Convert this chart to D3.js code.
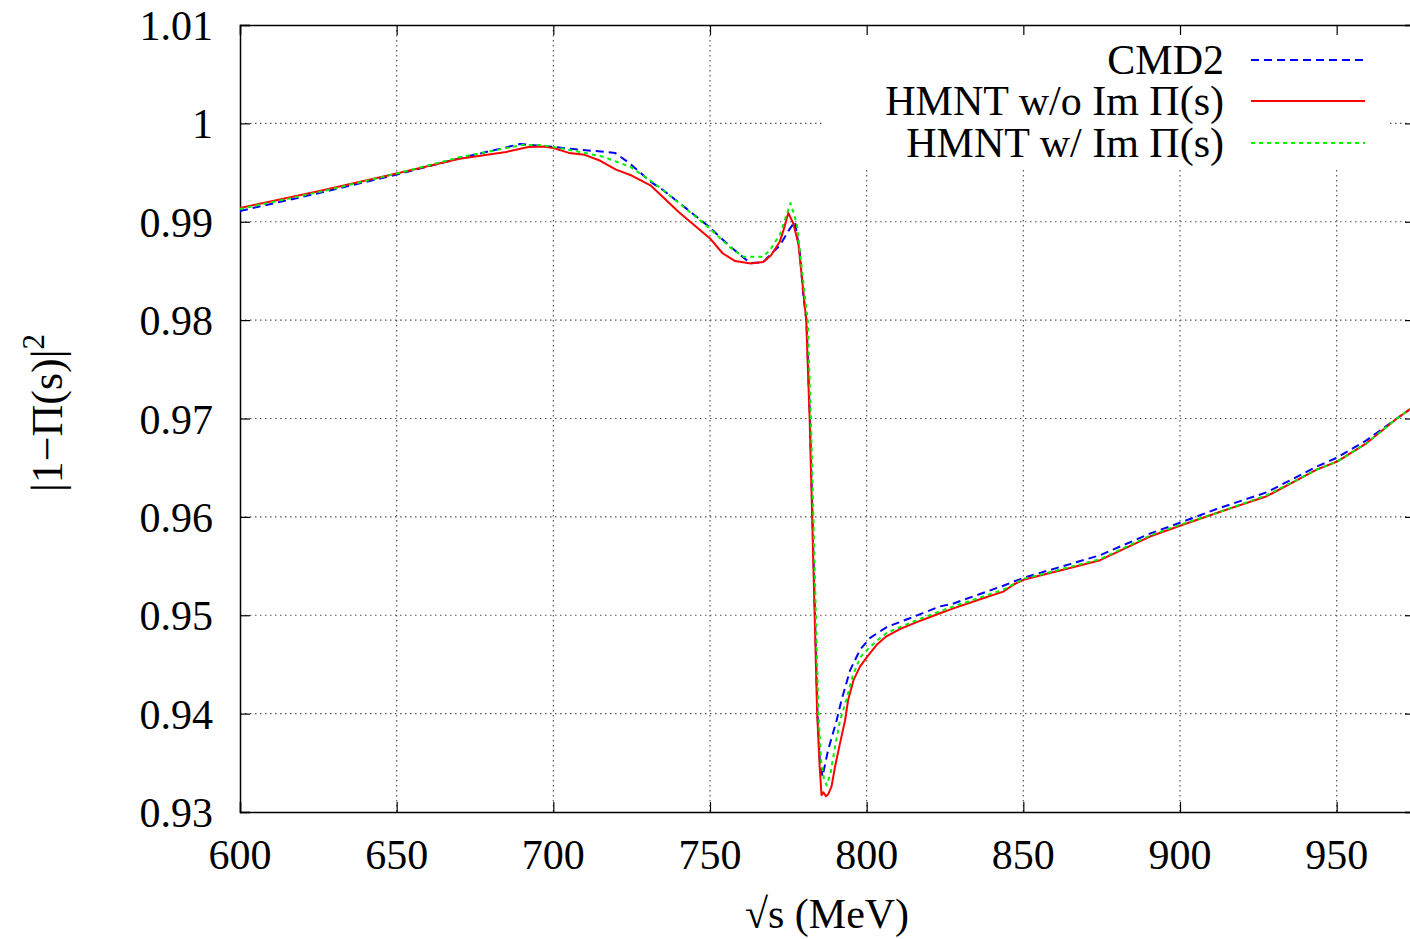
<!DOCTYPE html>
<html>
<head>
<meta charset="utf-8">
<script src="https://cdn.jsdelivr.net/npm/d3@7"></script>
<style>
  body { margin: 0; background: #fff; }
  svg { display: block; }
  text { font-family: "Liberation Serif", "Times New Roman", serif; fill: #000; }
</style>
</head>
<body>
<div id="chart"></div>
<script>
// CMD2 (dashed blue)
var energyCMD2 = [600, 625, 650, 670, 689.4, 700, 709.5, 719.7, 724.5, 730.9, 735.1, 748.9, 756.4, 762.8, 767, 769.1, 772.3, 775.5, 777.1, 778.7, 779.8, 780.8, 781.9, 782.7, 783.5, 784.3, 785, 785.9, 787.7, 790.4, 792, 794.7, 797.9, 801.1, 806.4, 813.8, 823.4, 827.7, 843.6, 850, 858.5, 864.9, 874.5, 890.4, 900, 911.7, 927.7, 943.6, 950, 959.6, 969.2, 975];
var cmd2 = [0.9911, 0.9929, 0.9948, 0.99645, 0.9979, 0.9976, 0.9973, 0.9970, 0.9959, 0.9941, 0.9932, 0.9897, 0.9875, 0.9858, 0.9859, 0.9866, 0.9876, 0.9893, 0.9900, 0.9868, 0.9824, 0.980, 0.970, 0.960, 0.950, 0.940, 0.9355, 0.9336, 0.9363, 0.9393, 0.9414, 0.9444, 0.9465, 0.9477, 0.9488, 0.9497, 0.9509, 0.9512, 0.9530, 0.9538, 0.9546, 0.9552, 0.9561, 0.9583, 0.9594, 0.9608, 0.9625, 0.9651, 0.9660, 0.9678, 0.9700, 0.9713];

// HMNT without Im Pi(s) (solid red)
var energyNoIm = [600, 625, 650, 670, 685, 692, 697, 700, 705, 710, 715, 720, 725, 731, 740, 750, 754, 758, 763, 767, 769.5, 772.3, 773.5, 775, 776.6, 778.2, 779.4, 780.7, 781.8, 782.6, 783.4, 784.2, 785, 785.6, 786.2, 787, 787.7, 788.8, 789.9, 791.5, 793.1, 794.1, 795.8, 797.9, 800.2, 803.2, 806, 810.6, 816, 823.4, 827.7, 835, 843.6, 846.8, 850, 858.5, 864.9, 874.5, 890.4, 900, 911.7, 927.7, 943.6, 950, 959.6, 969.2, 975];
var hmntNoIm = [0.9914, 0.9931, 0.9949, 0.9964, 0.9971, 0.9976, 0.99765, 0.9975, 0.9970, 0.9968, 0.9962, 0.9953, 0.9947, 0.9937, 0.9910, 0.9883, 0.9868, 0.9860, 0.98575, 0.9859, 0.9866, 0.9880, 0.9892, 0.9909, 0.9898, 0.9878, 0.9841, 0.980, 0.970, 0.960, 0.950, 0.940, 0.9346, 0.9317, 0.9320, 0.9316, 0.9318, 0.9326, 0.9346, 0.9370, 0.9393, 0.9414, 0.9434, 0.9448, 0.9458, 0.9470, 0.9478, 0.9486, 0.9493, 0.9502, 0.9507, 0.9515, 0.9524, 0.9531, 0.9536, 0.9543, 0.9548, 0.9556, 0.9580, 0.9591, 0.9604, 0.9621, 0.9648, 0.9656, 0.9675, 0.9700, 0.9713];

// HMNT with Im Pi(s) (dotted green)
var energyIm = [600, 625, 650, 670, 690, 696, 700, 710, 716, 720.2, 724.5, 730.9, 735.1, 748.9, 756.4, 760.6, 767, 769.1, 772.3, 775.7, 777.7, 778.7, 780.3, 781.2, 782.2, 783, 783.8, 784.6, 785.5, 786.3, 787.2, 788.5, 790, 791.5, 793.5, 795.5, 797.9, 800.2, 803.2, 806.4, 810.6, 816, 823.4, 827.7, 843.6, 850, 864.9, 874.5, 890.4, 900, 911.7, 927.7, 943.6, 950, 959.6, 969.2, 975];
var hmntIm = [0.9913, 0.9930, 0.9949, 0.99655, 0.9978, 0.9978, 0.9976, 0.9970, 0.9966, 0.9961, 0.9956, 0.9942, 0.9932, 0.9896, 0.9874, 0.98645, 0.98645, 0.9871, 0.9887, 0.9919, 0.9898, 0.9870, 0.9824, 0.980, 0.970, 0.960, 0.950, 0.940, 0.9350, 0.9335, 0.9327, 0.9340, 0.9368, 0.9393, 0.9414, 0.9438, 0.9457, 0.9465, 0.9474, 0.9482, 0.9488, 0.9495, 0.9504, 0.9509, 0.9526, 0.9537, 0.9549, 0.9557, 0.9581, 0.9592, 0.9604, 0.9622, 0.9648, 0.9656, 0.9675, 0.9700, 0.9713];

var xTicks = [600, 650, 700, 750, 800, 850, 900, 950];
var yTicks = [0.93, 0.94, 0.95, 0.96, 0.97, 0.98, 0.99, 1.00, 1.01];
var yTickLabels = ["0.93", "0.94", "0.95", "0.96", "0.97", "0.98", "0.99", "1", "1.01"];

var seriesNames = ["CMD2", "HMNT w/o Im \u03A0(s)", "HMNT w/ Im \u03A0(s)"];

document.addEventListener("DOMContentLoaded", () => {
    var width = 1410
    var height = 939
    var left = 240, right = 1415, top = 25, bottom = 812

    var svg = d3.select("#chart")
        .append("svg")
        .attr("width", width)
        .attr("height", height)

    var x = d3.scaleLinear().domain([600, 975]).range([left, right])
    var y = d3.scaleLinear().domain([0.93, 1.01]).range([bottom, top])

    svg.append("clipPath").attr("id", "plotclip")
        .append("rect")
        .attr("x", left).attr("y", top)
        .attr("width", right - left).attr("height", bottom - top)

    // grid
    var grid = svg.append("g")
        .attr("stroke", "#555")
        .attr("stroke-width", 1.2)
        .attr("stroke-dasharray", "1.5,3.5")
    grid.selectAll(".gx")
        .data(xTicks.slice(1))
        .enter().append("line")
        .attr("x1", d => x(d)).attr("x2", d => x(d))
        .attr("y1", top).attr("y2", bottom)
    grid.selectAll(".gy")
        .data(yTicks.slice(1, -1))
        .enter().append("line")
        .attr("x1", left).attr("x2", right)
        .attr("y1", d => y(d)).attr("y2", d => y(d))

    // legend background hides the grid (opaque key)
    svg.append("rect")
        .attr("x", 822).attr("y", top + 1)
        .attr("width", 566).attr("height", 142)
        .attr("fill", "#fff")

    // ticks on all four sides, pointing inwards
    var axes = svg.append("g")
    axes.append("g")
        .attr("transform", `translate(0,${bottom})`)
        .call(d3.axisBottom(x).tickValues(xTicks).tickSize(-10).tickFormat(""))
    axes.append("g")
        .attr("transform", `translate(0,${top})`)
        .call(d3.axisTop(x).tickValues(xTicks).tickSize(-10).tickFormat(""))
    axes.append("g")
        .attr("transform", `translate(${left},0)`)
        .call(d3.axisLeft(y).tickValues(yTicks).tickSize(-10).tickFormat(""))
    axes.append("g")
        .attr("transform", `translate(${right},0)`)
        .call(d3.axisRight(y).tickValues(yTicks).tickSize(-10).tickFormat(""))
    axes.selectAll(".domain").attr("stroke", "#000").attr("stroke-width", 1.5)
    axes.selectAll(".tick line").attr("stroke", "#000").attr("stroke-width", 1.2)

    // tick labels
    svg.append("g").selectAll("text")
        .data(xTicks)
        .enter().append("text")
        .attr("x", d => x(d))
        .attr("y", 869)
        .attr("text-anchor", "middle")
        .style("font-size", "42px")
        .text(d => d)
    svg.append("g").selectAll("text")
        .data(yTicks)
        .enter().append("text")
        .attr("x", 213)
        .attr("y", d => y(d) + 15)
        .attr("text-anchor", "end")
        .style("font-size", "42px")
        .text((d, i) => yTickLabels[i])

    // axis titles
    svg.append("text")
        .attr("x", 827).attr("y", 928)
        .attr("text-anchor", "middle")
        .style("font-size", "42px")
        .text("\u221As (MeV)")

    var ylab = svg.append("text")
        .attr("transform", "translate(62,413) rotate(-90)")
        .attr("text-anchor", "middle")
        .style("font-size", "44px")
    ylab.append("tspan").text("|1\u2212\u03A0(s)|")
    ylab.append("tspan").attr("dy", -18).style("font-size", "31px").text("2")

    // curves
    var line = d3.line()
        .x(d => x(d[0]))
        .y(d => y(d[1]))

    var series = [
        { xs: energyCMD2, ys: cmd2, color: "#0000ff", dash: "8,5" },
        { xs: energyNoIm, ys: hmntNoIm, color: "#ff0000", dash: null },
        { xs: energyIm, ys: hmntIm, color: "#00f000", dash: "4,4" }
    ]

    var plot = svg.append("g").attr("clip-path", "url(#plotclip)")
    series.forEach(s => {
        var pts = s.xs.map((v, i) => [v, s.ys[i]])
        plot.append("path")
            .datum(pts)
            .attr("fill", "none")
            .attr("stroke", s.color)
            .attr("stroke-width", 2)
            .attr("stroke-linejoin", "round")
            .attr("stroke-dasharray", s.dash)
            .attr("d", line)
    })

    // legend
    var rows = [74, 115, 157]
    var legend = svg.append("g")
    series.forEach((s, i) => {
        legend.append("text")
            .attr("x", 1224).attr("y", rows[i])
            .attr("text-anchor", "end")
            .style("font-size", "42px")
            .text(seriesNames[i])
        legend.append("line")
            .attr("x1", 1251).attr("x2", 1365)
            .attr("y1", rows[i] - 14).attr("y2", rows[i] - 14)
            .attr("stroke", s.color)
            .attr("stroke-width", 2)
            .attr("stroke-dasharray", s.dash)
    })
});
</script>
</body>
</html>
